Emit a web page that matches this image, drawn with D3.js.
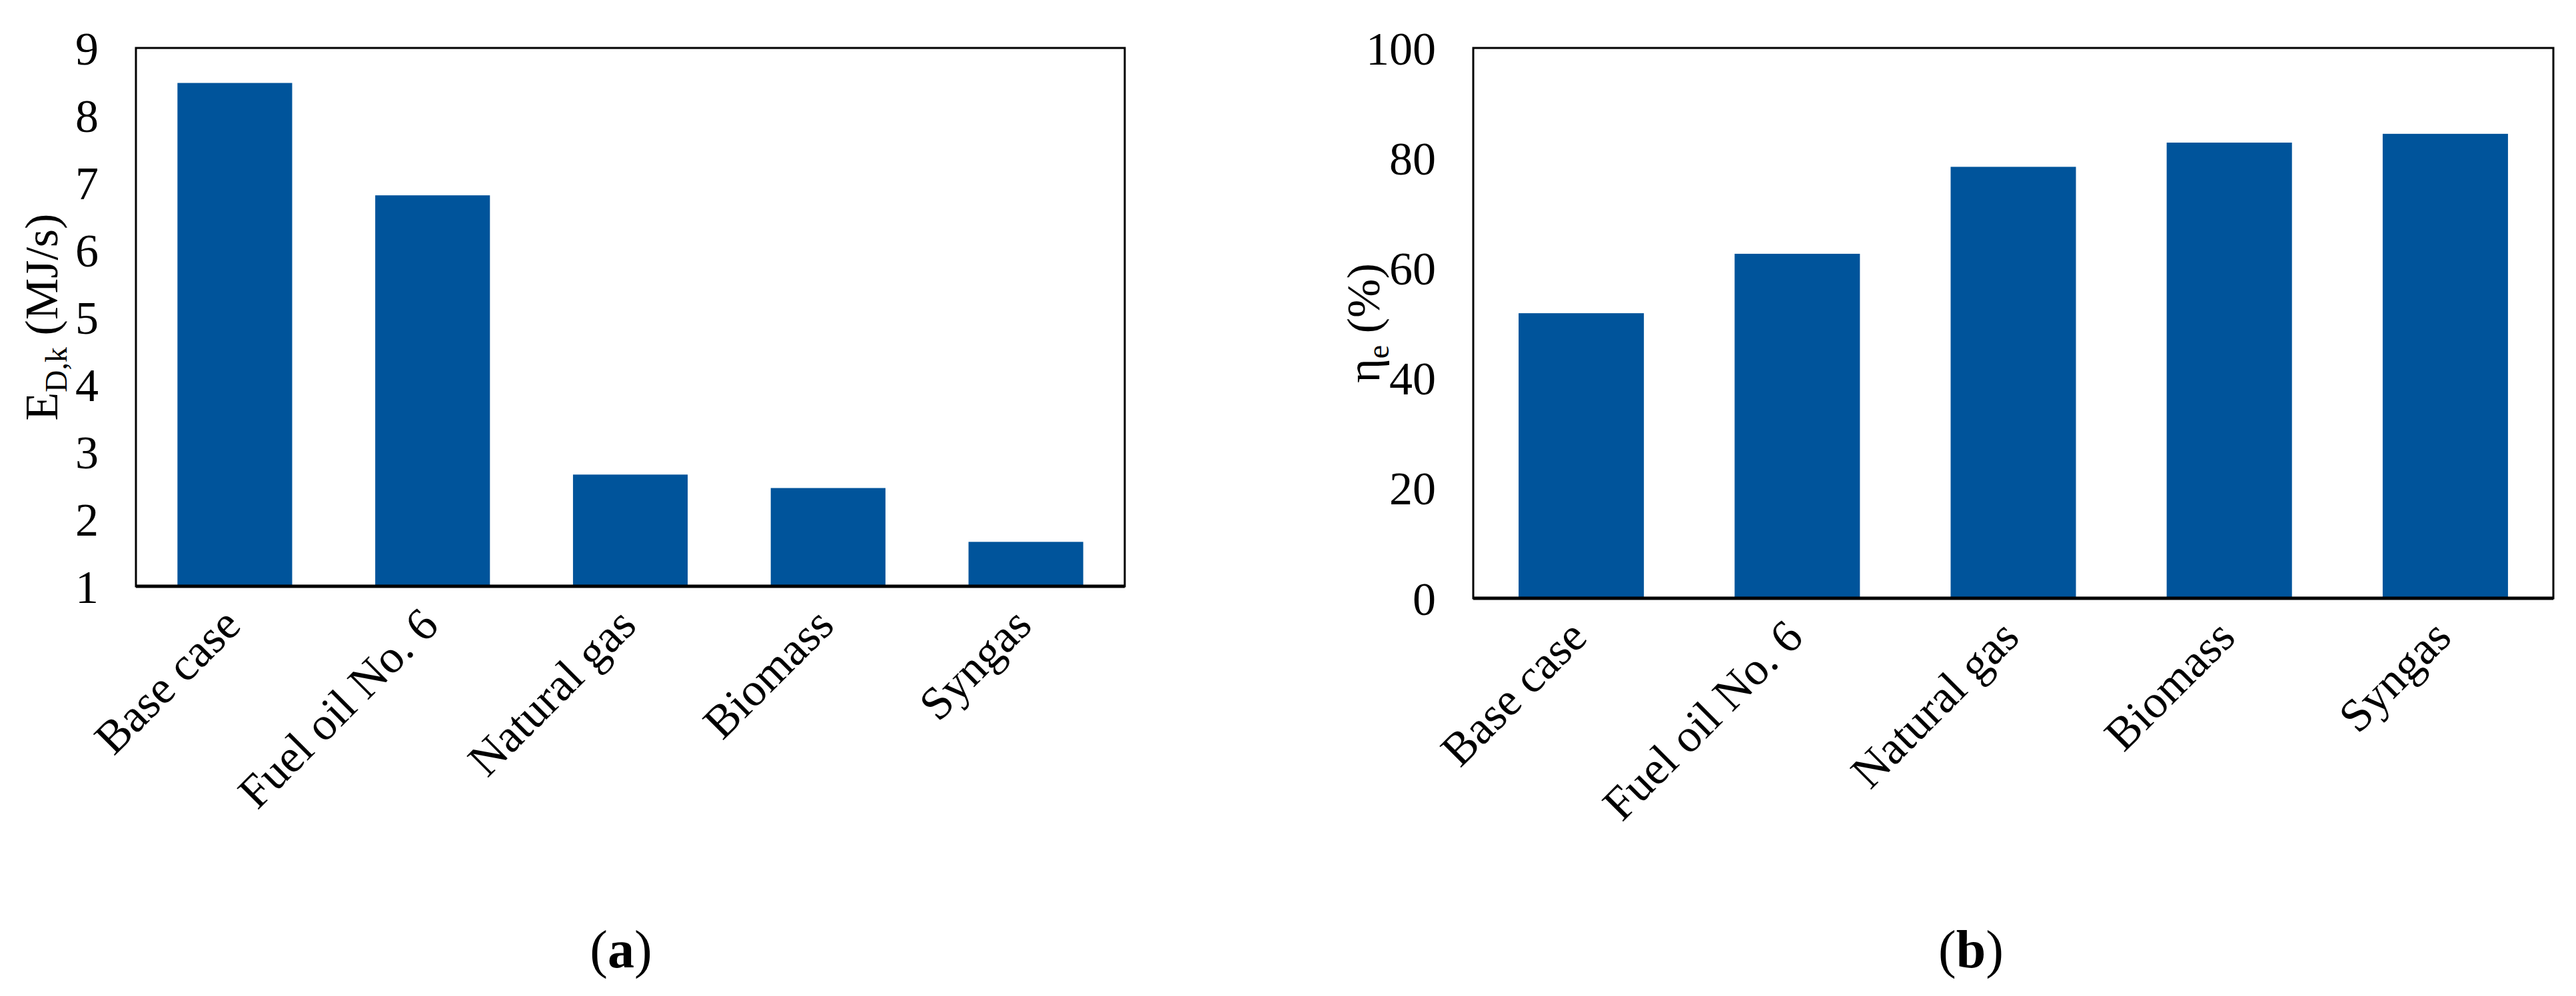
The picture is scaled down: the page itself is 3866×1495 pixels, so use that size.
<!DOCTYPE html>
<html>
<head>
<meta charset="utf-8">
<script src="https://cdn.jsdelivr.net/npm/d3@7"></script>
<style>
body { margin: 0; background: #fff; }
text { font-family: "Liberation Serif", "Times New Roman", serif; }
</style>
</head>
<body>
<script>
var categories = ["Base case", "Fuel oil No. 6", "Natural gas", "Biomass", "Syngas"];
var exergyDestruction = [8.48, 6.81, 2.66, 2.46, 1.66];
var efficiency = [51.8, 62.6, 78.4, 82.8, 84.4];
var ticksA = [1, 2, 3, 4, 5, 6, 7, 8, 9];
var ticksB = [0, 20, 40, 60, 80, 100];

var W = 3866, H = 1495;
var svg = d3.select("body").append("svg").attr("width", W).attr("height", H);

function panel(opt) {
  var x = d3.scaleBand().domain(categories).range([opt.left, opt.right]).paddingInner(0.42).paddingOuter(0.21);
  var y = d3.scaleLinear().domain(opt.domain).range([opt.bottom, opt.top]);
  var g = svg.append("g");

  g.selectAll("rect.bar").data(opt.values).enter().append("rect")
    .attr("x", function(d, i) { return x(categories[i]); })
    .attr("y", function(d) { return y(d); })
    .attr("width", x.bandwidth())
    .attr("height", function(d) { return opt.bottom - y(d); })
    .attr("fill", "#00549b");

  g.append("rect").attr("x", opt.left).attr("y", opt.top)
    .attr("width", opt.right - opt.left).attr("height", opt.bottom - opt.top)
    .attr("fill", "none").attr("stroke", "#000").attr("stroke-width", 3);
  g.append("line").attr("x1", opt.left).attr("x2", opt.right)
    .attr("y1", opt.bottom).attr("y2", opt.bottom)
    .attr("stroke", "#000").attr("stroke-width", 5);

  g.selectAll("text.tick").data(opt.ticks).enter().append("text")
    .attr("x", opt.left - 56).attr("y", function(d) { return y(d); })
    .attr("dy", "0.35em").attr("text-anchor", "end")
    .attr("font-size", 70).text(function(d) { return d; });

  g.selectAll("text.cat").data(categories).enter().append("text")
    .attr("text-anchor", "end").attr("font-size", 70)
    .attr("transform", function(d) {
      return "translate(" + (x(d) + x.bandwidth() / 2 + 12) + "," + (opt.bottom + 62) + ") rotate(-45)";
    })
    .text(function(d) { return d; });

  var yl = g.append("text").attr("text-anchor", "middle").attr("font-size", 70)
    .attr("transform", "translate(" + opt.labelX + "," + ((opt.top + opt.bottom) / 2) + ") rotate(-90)");
  yl.append("tspan").text(opt.label[0]);
  yl.append("tspan").attr("font-size", 46).attr("dy", 14).text(opt.label[1]);
  yl.append("tspan").attr("dy", -14).text(opt.label[2]);

  var pl = g.append("text").attr("x", opt.tagX).attr("y", 1452).attr("text-anchor", "middle").attr("font-size", 80);
  pl.append("tspan").text("(");
  pl.append("tspan").attr("font-weight", "bold").text(opt.tag);
  pl.append("tspan").text(")");
}

panel({ left: 204, right: 1688, top: 72, bottom: 880, domain: [1, 9], values: exergyDestruction,
  ticks: ticksA, label: ["E", "D,k", " (MJ/s)"], labelX: 86, tagX: 932, tag: "a" });
panel({ left: 2211, right: 3832, top: 72, bottom: 898, domain: [0, 100], values: efficiency,
  ticks: ticksB, label: ["η", "e", " (%)"], labelX: 2070, tagX: 2958, tag: "b" });
</script>
</body>
</html>
